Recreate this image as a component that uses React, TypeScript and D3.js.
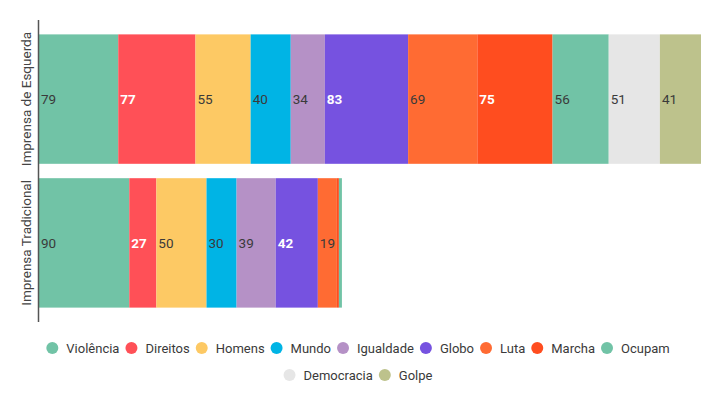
import React from 'react';
import * as d3 from 'd3';

const groups = ['Imprensa de Esquerda', 'Imprensa Tradicional'];
const series = ['Violência', 'Direitos', 'Homens', 'Mundo', 'Igualdade', 'Globo', 'Luta', 'Marcha', 'Ocupam', 'Democracia', 'Golpe'];
const colors = ['#71c3a6', '#ff5057', '#fdc964', '#00b4e5', '#b591c6', '#7652e0', '#ff6b33', '#ff4d1f', '#71c3a6', '#e6e6e6', '#bdc28c'];
const esquerda = [79, 77, 55, 40, 34, 83, 69, 75, 56, 51, 41];
const tradicional = [90, 27, 50, 30, 39, 42, 19, 2, 3, 0, 0];
const whiteLabels = ['Direitos', 'Globo', 'Marcha'];

const W = 723, H = 393;
const FONT = 'Roboto, sans-serif';

function measure(text: string, size = 13) {
  const c = document.createElement('canvas').getContext('2d');
  if (!c) return text.length * 7;
  c.font = `${size}px Roboto`;
  return c.measureText(text).width;
}

export default function App() {
  const values = [esquerda, tradicional];
  const x = d3.scaleLinear().domain([0, 660]).range([39, 701]);
  const y = d3.scaleBand().domain(groups).range([20, 322]).paddingInner(0.1).paddingOuter(0.1);

  // legend layout: wrap rows, centred
  const gap = 6;
  const items = series.map((s, i) => ({ s, color: colors[i], w: 12 + 8 + measure(s) + gap }));
  const rows: typeof items[] = [];
  let cur: typeof items = [], curW = 0;
  items.forEach(it => {
    if (curW + it.w > 680 && cur.length) { rows.push(cur); cur = []; curW = 0; }
    cur.push(it); curW += it.w;
  });
  if (cur.length) rows.push(cur);

  return (
    <svg width={W} height={H} style={{ position: 'absolute', left: 0, top: 0, background: '#fff' }} fontFamily={FONT}>
      {groups.map((g, gi) => {
        let acc = 0;
        const y0 = y(g)!;
        return (
          <g key={g}>
            {values[gi].map((v, i) => {
              const x0 = x(acc);
              acc += v;
              const w = x(acc) - x0;
              if (v <= 0) return null;
              const white = whiteLabels.includes(series[i]);
              return (
                <g key={series[i]}>
                  <rect x={x0} y={y0} width={w} height={y.bandwidth()} fill={colors[i]} />
                  {w > 16 && (
                    <text x={x0 + 2} y={y0 + y.bandwidth() / 2} dy="0.35em" fontSize={13.5}
                      fill={white ? '#fff' : '#3a3a3a'} fontWeight={white ? 700 : 400}>{v}</text>
                  )}
                </g>
              );
            })}
            <text transform={`translate(31,${y0 + y.bandwidth() / 2}) rotate(-90)`} textAnchor="middle"
              fontSize={13.5} fill="#444">{g}</text>
          </g>
        );
      })}
      <line x1={38.5} x2={38.5} y1={20} y2={322} stroke="#555" strokeWidth={1.5} />
      {rows.map((row, ri) => {
        const total = row.reduce((a, b) => a + b.w, 0) - gap;
        let px = 358 - total / 2;
        const cy = 348 + ri * 27;
        return row.map(it => {
          const gx = px;
          px += it.w;
          return (
            <g key={it.s}>
              <circle cx={gx + 6} cy={cy} r={6} fill={it.color} />
              <text x={gx + 20} y={cy} dy="0.35em" fontSize={13} fill="#3a3a3a">{it.s}</text>
            </g>
          );
        });
      })}
    </svg>
  );
}
